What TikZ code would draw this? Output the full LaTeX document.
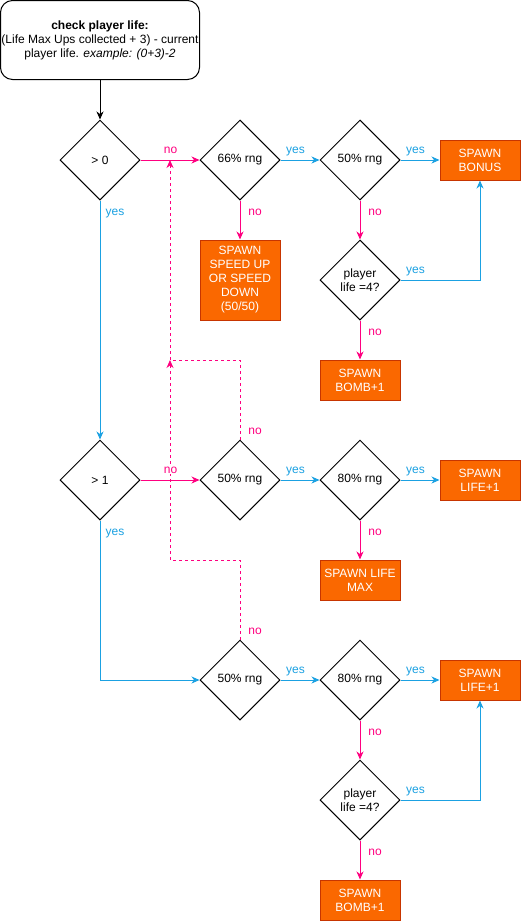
\documentclass[tikz,border=0pt]{standalone}
\usepackage{fontspec}
\setmainfont{Liberation Sans}
\usetikzlibrary{shapes.geometric, arrows.meta}
\definecolor{yescol}{HTML}{1BA1E2}
\definecolor{nocol}{HTML}{FF0080}
\definecolor{spawnfill}{HTML}{FA6800}
\definecolor{spawnline}{HTML}{C73500}

\begin{document}
\begin{tikzpicture}[x=1pt, y=-1pt, font=\fontsize{12}{14}\selectfont, line width=1pt,
  tip/.style={-{Stealth[length=8pt, width=7pt, inset=2.5pt]}},
  startbox/.style={rectangle, draw, rounded corners=12pt, minimum width=199pt, minimum height=79pt, align=center, inner sep=0pt},
  check/.style={diamond, draw, aspect=1, minimum width=80pt, minimum height=80pt, inner sep=0pt, align=center},
  spawn/.style={rectangle, draw=spawnline, fill=spawnfill, text=white, minimum width=80pt, minimum height=40pt, inner sep=0pt, align=center},
  yesline/.style={tip, draw=yescol},
  noline/.style={tip, draw=nocol},
  backline/.style={tip, draw=nocol, dash pattern=on 3pt off 3pt},
  lab/.style={anchor=base, inner sep=1pt, fill=white},
  hlab/.style={lab, yshift=7pt, xshift=15pt},
  vlab/.style={lab, xshift=15pt, yshift=-15pt},
  uplab/.style={lab, xshift=15pt, yshift=5pt}]

\useasboundingbox (0,0) rectangle (521,921);

\node[startbox] (top) at (100,40) {\textbf{check player life:}\\(Life Max Ups collected + 3) - current\\player life. \textit{example: (0+3)-2}};

\node[check] (c0) at (100,160) {> 0};
\node[check] (r66) at (240,160) {66\% rng};
\node[check] (r1) at (360,160) {50\% rng};
\node[spawn] (bonus) at (480,160) {SPAWN\\BONUS};
\node[spawn, minimum height=80pt] (speed) at (240,280) {SPAWN\\SPEED UP\\OR SPEED\\DOWN\\(50/50)};
\node[check] (p1) at (360,280) {player\\life =4?};
\node[spawn] (bomb1) at (360,380) {SPAWN\\BOMB+1};

\node[check] (c1) at (100,480) {> 1};
\node[check] (r2a) at (240,480) {50\% rng};
\node[check] (r2b) at (360,480) {80\% rng};
\node[spawn] (life2) at (480,480) {SPAWN\\LIFE+1};
\node[spawn] (lifemax) at (360,580) {SPAWN LIFE\\MAX};

\node[check] (r3a) at (240,680) {50\% rng};
\node[check] (r3b) at (360,680) {80\% rng};
\node[spawn] (life3) at (480,680) {SPAWN\\LIFE+1};
\node[check] (p3) at (360,800) {player\\life =4?};
\node[spawn] (bomb3) at (360,900) {SPAWN\\BOMB+1};

\coordinate (j0) at (170,160);
\coordinate (j1) at (170,360);
\coordinate (j2) at (170,560);

\draw[backline] (r2a.north) |- (j1) node[uplab, at start, text=nocol] {no} -- (j0);
\draw[backline] (r3a.north) |- (j2) node[uplab, at start, text=nocol] {no} -- (j1);

\draw[tip] (top) -- (c0);

\foreach \i/\j in {r66/r1, r1/bonus, r2a/r2b, r2b/life2, r3a/r3b, r3b/life3}
\draw[yesline] (\i) -- (\j) node[hlab, at start, text=yescol] {yes};

\foreach \i/\j in {r66/speed, r1/p1, p1/bomb1, r2b/lifemax, r3b/p3, p3/bomb3}
\draw[noline] (\i) -- (\j) node[vlab, at start, text=nocol] {no};

\foreach \i/\j in {c0/r66, c1/r2a}
\draw[noline] (\i) -- (\j) node[hlab, at start, xshift=15pt, text=nocol] {no};

\draw[yesline] (p1.east) -| (bonus.south) node[hlab, at start, text=yescol] {yes};
\draw[yesline] (p3.east) -| (life3.south) node[hlab, at start, text=yescol] {yes};
\draw[yesline] (c0) -- (c1) node[vlab, at start, text=yescol] {yes};
\draw[yesline] (c1.south) |- (r3a.west) node[vlab, at start, text=yescol] {yes};

\end{tikzpicture}
\end{document}
